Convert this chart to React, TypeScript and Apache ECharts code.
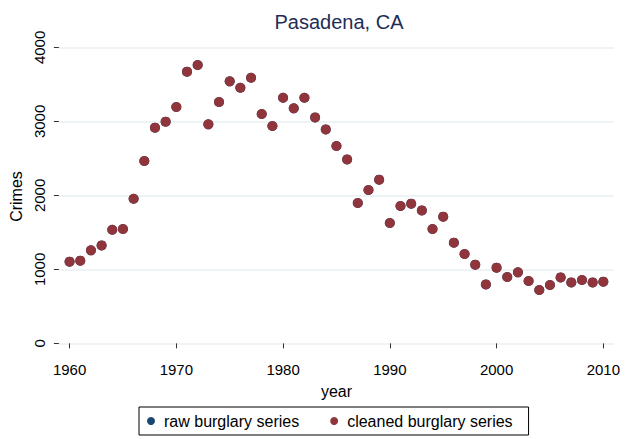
import React, { useEffect, useRef } from "react";
import * as echarts from "echarts";

const years: number[] = [
  1960, 1961, 1962, 1963, 1964, 1965, 1966, 1967, 1968, 1969,
  1970, 1971, 1972, 1973, 1974, 1975, 1976, 1977, 1978, 1979,
  1980, 1981, 1982, 1983, 1984, 1985, 1986, 1987, 1988, 1989,
  1990, 1991, 1992, 1993, 1994, 1995, 1996, 1997, 1998, 1999,
  2000, 2001, 2002, 2003, 2004, 2005, 2006, 2007, 2008, 2009, 2010,
];

const cleanedBurglary: number[] = [
  1104, 1118, 1257, 1324, 1536, 1546, 1955, 2465, 2915, 2996,
  3195, 3672, 3762, 2960, 3262, 3541, 3455, 3590, 3100, 2938,
  3320, 3176, 3320, 3054, 2892, 2668, 2486, 1897, 2073, 2212,
  1627, 1857, 1888, 1797, 1546, 1712, 1361, 1208, 1064, 797,
  1023, 897, 960, 843, 722, 789, 892, 824, 857, 824, 834,
];

// raw series lies entirely under the cleaned series in the picture
const rawBurglary: number[] = cleanedBurglary.slice();

const yTicks: number[] = [0, 1000, 2000, 3000, 4000];
const xTicks: number[] = [1960, 1970, 1980, 1990, 2000, 2010];

const FONT = "Liberation Sans, Arial, sans-serif";

export default function App() {
  const ref = useRef<HTMLDivElement>(null);
  useEffect(() => {
    document.body.style.margin = "0";
    if (!ref.current) return;
    const chart = echarts.init(ref.current, undefined, { renderer: "svg" });
    chart.setOption({
      animation: false,
      backgroundColor: "#ffffff",
      textStyle: { fontFamily: FONT },
      title: {
        text: "Pasadena, CA",
        left: 334,
        textAlign: "center",
        top: 7,
        textStyle: { fontFamily: FONT, fontSize: 20, fontWeight: "normal", color: "#1f2d56" },
      },
      grid: { left: 53, right: 11, top: 40, bottom: 86 },
      xAxis: {
        type: "value",
        min: 1959,
        max: 2011,
        name: "year",
        nameLocation: "middle",
        nameGap: 30,
        nameTextStyle: { fontFamily: FONT, fontSize: 16, color: "#000" },
        axisLine: { show: false },
        axisTick: { show: true, length: 5, customValues: xTicks, lineStyle: { color: "#333", width: 1 } },
        axisLabel: { customValues: xTicks, fontFamily: FONT, fontSize: 15, color: "#000", margin: 9, formatter: (v: number) => String(v) },
        splitLine: { show: false },
      },
      yAxis: {
        type: "value",
        min: -130,
        max: 4100,
        name: "Crimes",
        nameLocation: "middle",
        nameGap: 30,
        nameRotate: 90,
        nameTextStyle: { fontFamily: FONT, fontSize: 16, color: "#000" },
        axisLine: { show: false },
        axisTick: { show: true, length: 5, customValues: yTicks, lineStyle: { color: "#333", width: 1 } },
        axisLabel: { customValues: yTicks, rotate: 90, fontFamily: FONT, fontSize: 15, color: "#000", margin: 12, formatter: (v: number) => String(v) },
        splitLine: { show: true, lineStyle: { color: "#e8eff2", width: 1.5 } },
      },
      legend: {
        show: true,
        bottom: 4,
        left: 139,
        orient: "horizontal",
        icon: "circle",
        itemWidth: 8,
        itemHeight: 8,
        itemGap: 31,
        padding: [6, 16, 6, 8],
        borderColor: "#000",
        borderWidth: 1,
        backgroundColor: "#fff",
        borderRadius: 0,
        textStyle: { fontFamily: FONT, fontSize: 16, color: "#000", padding: [0, 0, 0, 4] },
        data: ["raw burglary series", "cleaned burglary series"],
      },
      series: [
        {
          name: "raw burglary series",
          type: "scatter",
          symbol: "circle",
          symbolSize: 10,
          itemStyle: { color: "#1a476f", opacity: 1 },
          data: years.map((y, i) => [y, rawBurglary[i]]),
        },
        {
          name: "cleaned burglary series",
          type: "scatter",
          symbol: "circle",
          symbolSize: 10,
          itemStyle: { color: "#90353b", opacity: 1 },
          data: years.map((y, i) => [y, cleanedBurglary[i]]),
        },
      ],
    });
    return () => chart.dispose();
  }, []);
  return <div ref={ref} style={{ width: 625, height: 439 }} />;
}
